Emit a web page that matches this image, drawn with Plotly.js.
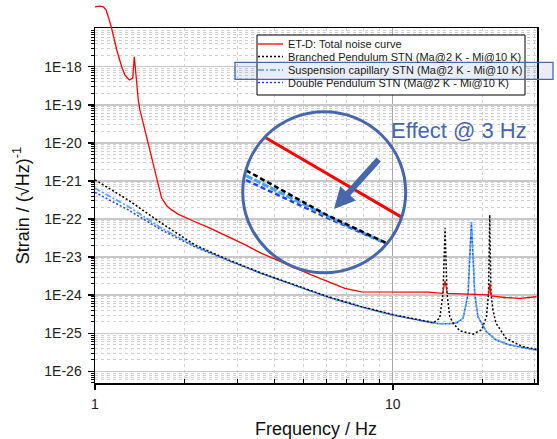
<!DOCTYPE html>
<html><head><meta charset="utf-8">
<script src="https://cdn.plot.ly/plotly-3.0.1.min.js"></script>
<style>html,body{margin:0;padding:0;background:#fff}#chart{width:557px;height:439px}</style>
</head><body><div id="chart"></div>
<script>
// ---------- data ----------
const freqTotal = [1.000,1.039,1.066,1.089,1.111,1.137,1.183,1.229,1.261,1.304,1.339,1.355,1.378,1.397,1.416,1.452,1.510,1.569,1.630,1.674,1.740,1.809,1.900,2.030,2.166,2.400,2.801,3.200,3.626,4.100,4.690,5.300,6.066,6.900,7.852,9.770,13.14,14.70,14.98,15.25,18.13,20.95,21.16,21.40,23.76,26.69,30.40];
const totalNoise = [3.72e-17,3.89e-17,3.72e-17,3.09e-17,1.91e-17,1.02e-17,2.75e-18,1.0e-18,6.03e-19,4.47e-19,5.01e-19,1.82e-18,4.47e-19,1.35e-19,7.24e-20,3.24e-20,9.77e-21,2.40e-21,7.08e-22,3.55e-22,2.24e-22,1.74e-22,1.35e-22,1.05e-22,8.51e-23,6.03e-23,3.47e-23,2.09e-23,1.26e-23,8.32e-24,5.13e-24,3.47e-24,2.29e-24,1.51e-24,1.23e-24,1.20e-24,1.20e-24,1.12e-24,2.40e-24,1.12e-24,1.07e-24,1.02e-24,2.04e-24,9.55e-25,8.71e-25,8.32e-25,9.12e-25];

const freqBranched = [1.000,1.293,1.674,2.166,2.801,3.626,4.690,6.066,7.852,10.16,13.14,13.65,14.38,14.75,14.98,15.21,15.53,15.94,16.78,18.60,19.87,20.64,20.97,21.16,21.36,21.70,22.20,24.00,27.30,30.40];
const branchedSTN = [1.07e-21,3.16e-22,7.76e-23,2.09e-23,8.51e-24,3.80e-24,1.86e-24,9.12e-25,5.01e-25,3.02e-25,2.04e-25,1.86e-25,2.51e-25,1.12e-24,5.75e-23,1.12e-24,2.75e-25,1.86e-25,1.17e-25,9.55e-26,1.23e-25,2.75e-25,1.12e-24,1.29e-22,1.12e-24,4.07e-25,1.86e-25,7.41e-26,4.47e-26,3.80e-26];

const freqCapillary = [1.000,1.293,1.674,2.166,2.801,3.626,4.690,6.066,7.852,10.16,13.14,14.38,15.94,16.37,17.23,17.90,18.37,18.84,19.32,20.64,22.20,24.60,30.40];
const capillarySTN = [6.46e-22,2.14e-22,5.75e-23,1.95e-23,8.32e-24,3.72e-24,1.82e-24,8.91e-25,4.90e-25,2.95e-25,2.00e-25,1.78e-25,1.82e-25,1.86e-25,2.51e-25,1.12e-24,8.51e-23,1.12e-24,2.75e-25,1.10e-25,6.76e-26,5.01e-26,3.63e-26];

const freqDouble = [1.000,1.293,1.674,2.166,2.801,3.626,4.690,6.066,7.852,10.16,13.14,14.38,15.94,16.37,17.23,17.90,18.37,18.84,19.32,20.64,22.20,24.60,30.40];
const doubleSTN = [5.01e-22,1.74e-22,5.13e-23,1.86e-23,8.13e-24,3.70e-24,1.81e-24,8.85e-25,4.88e-25,2.94e-25,1.99e-25,1.77e-25,1.81e-25,1.85e-25,2.50e-25,1.11e-24,8.40e-23,1.11e-24,2.72e-25,1.09e-25,6.70e-26,4.98e-26,3.60e-26];

// magnified view around 3 Hz (inset)
const insetFreq = [2.23, 3.07, 3.90];
const insetBranched = [2.90e-23, 1.35e-23, 8.3e-24];
const insetCapillary = [2.65e-23, 1.33e-23, 8.2e-24];
const insetDouble = [2.45e-23, 1.29e-23, 8.2e-24];
const insetFreqTotal = [2.41, 4.13];
const insetTotal = [5.08e-23, 1.30e-23];

const seriesNames = ['ET-D: Total noise curve','Branched Pendulum STN (Ma@2 K - Mi@10 K)','Suspension capillary STN (Ma@2 K - Mi@10 K)','Double Pendulum STN (Ma@2 K - Mi@10 K)'];
const xTickVals = [1, 10];
const xTickText = ['1', '10'];
const yTickVals = [1e-26,1e-25,1e-24,1e-23,1e-22,1e-21,1e-20,1e-19,1e-18];
const yTickText = ['1E-26','1E-25','1E-24','1E-23','1E-22','1E-21','1E-20','1E-19','1E-18'];
const xMinorVals = [2,3,4,5,6,7,8,9,20,30];
const calloutText = 'Effect @ 3 Hz';

// ---------- layout helpers ----------
const W = 557, H = 439;
const L = 95, R = 537, T = 2, B = 383;
const mainTop = 28.3;
const xMaxLog = Math.log10(30.5);
const yMin = -26.304, yMax = -16.992;
const pxPerDec = (B - mainTop) / (yMax - yMin);
const y2Top = yMin + (B - T) / pxPerDec;
const px = x => (x - L) / (R - L);
const py = y => (B - y) / (B - T);

const yMinorVals = [];
for (let e = -27; e <= -18; e++) for (let m = 2; m <= 9; m++) yMinorVals.push(m * Math.pow(10, e));

const C = { red:'#ff0000', black:'#000000', cap:'#4aa3f3', dbl:'#2244ee', accent:'#4767ad' };
const FONT = 'Liberation Sans, Arial, sans-serif';

const traces = [
  {x:freqDouble, y:doubleSTN, type:'scatter', mode:'lines', name:seriesNames[3], line:{color:C.dbl, width:1.5, dash:'2px,2px'}},
  {x:freqCapillary, y:capillarySTN, type:'scatter', mode:'lines', name:seriesNames[2], line:{color:C.cap, width:1.6, dash:'6px,2px,2px,2px'}},
  {x:freqBranched, y:branchedSTN, type:'scatter', mode:'lines', name:seriesNames[1], line:{color:C.black, width:1.5, dash:'2px,2px'}},
  {x:freqTotal, y:totalNoise, type:'scatter', mode:'lines', name:seriesNames[0], xaxis:'x4', yaxis:'y2', line:{color:C.red, width:1.3}},
  {x:insetFreq, y:insetDouble, type:'scatter', mode:'lines', xaxis:'x3', yaxis:'y3', line:{color:C.dbl, width:2.5, dash:'5px,3px'}},
  {x:insetFreq, y:insetCapillary, type:'scatter', mode:'lines', xaxis:'x3', yaxis:'y3', line:{color:C.cap, width:3, dash:'7px,2px'}},
  {x:insetFreq, y:insetBranched, type:'scatter', mode:'lines', xaxis:'x3', yaxis:'y3', line:{color:C.black, width:2.5, dash:'5px,3px'}},
  {x:insetFreqTotal, y:insetTotal, type:'scatter', mode:'lines', xaxis:'x3', yaxis:'y3', line:{color:C.red, width:3}}
];

const legendRows = [44, 56.5, 70, 82.5];
const legendStyles = [
  {color:C.red, width:1.3, dash:'solid'},
  {color:C.black, width:1.3, dash:'2px,2px'},
  {color:C.cap, width:1.5, dash:'6px,2px,2px,2px'},
  {color:C.dbl, width:1.3, dash:'2px,2px'}
];

const shapes = [
  {type:'rect', xref:'paper', yref:'paper', x0:px(257), x1:px(525), y0:py(95), y1:py(35), fillcolor:'#ffffff', line:{color:'#000', width:1}, layer:'above'}
];
legendRows.forEach((r, i) => shapes.push({type:'line', xref:'paper', yref:'paper', x0:px(258), x1:px(283), y0:py(r), y1:py(r), line:legendStyles[i], layer:'above'}));
shapes.push({type:'rect', xref:'paper', yref:'paper', x0:px(235), x1:px(553), y0:py(79.3), y1:py(62.3), fillcolor:'rgba(71,103,173,0.12)', line:{color:C.accent, width:1.3}, layer:'above'});
shapes.push({type:'circle', xref:'paper', yref:'paper', x0:px(242.7), x1:px(405.7), y0:py(272.7), y1:py(111.7), line:{color:C.accent, width:3}, layer:'above'});

const annotations = seriesNames.map((n, i) => ({
  xref:'paper', yref:'paper', x:px(286), y:py(legendRows[i]), xanchor:'left', yanchor:'middle',
  text:n, showarrow:false, font:{family:FONT, size:11, color:'#1a1a1a'}
}));
annotations.push({xref:'paper', yref:'paper', x:px(389), y:py(130), xanchor:'left', yanchor:'middle', text:calloutText, showarrow:false, font:{family:FONT, size:22, color:C.accent}});
annotations.push({xref:'paper', yref:'paper', x:px(334), y:py(209), ax:46, ay:-51, text:'', showarrow:true, arrowhead:2, arrowsize:0.7, arrowwidth:6, arrowcolor:C.accent});

const layout = {
  width:W, height:H,
  margin:{l:L, r:W-R, t:T, b:H-B},
  paper_bgcolor:'#ffffff', plot_bgcolor:'rgba(0,0,0,0)',
  showlegend:false,
  font:{family:FONT, size:14, color:'#222'},
  xaxis:{type:'log', range:[0, xMaxLog], domain:[0,1], anchor:'y',
    tickmode:'array', tickvals:xTickVals, ticktext:xTickText, ticks:'outside', ticklen:5, tickwidth:1.5, tickcolor:'#000',
    showline:true, linecolor:'#000', linewidth:1.5, mirror:true,
    showgrid:true, gridcolor:'#a8a8a8', gridwidth:1, zeroline:false, ticklabelstandoff:3,
    tickfont:{family:FONT, size:14, color:'#222'},
    minor:{tickmode:'array', tickvals:xMinorVals, ticks:'inside', ticklen:4, tickcolor:'#000', tickwidth:1, showgrid:true, gridcolor:'#d0d0d0', griddash:'dot', gridwidth:1},
    title:{text:'Frequency / Hz', font:{family:FONT, size:18, color:'#111'}, standoff:12}
  },
  yaxis:{type:'log', range:[yMin, yMax], domain:[0, (B-mainTop)/(B-T)], anchor:'x',
    tickmode:'array', tickvals:yTickVals, ticktext:yTickText, ticks:'outside', ticklen:6, tickwidth:1.5, tickcolor:'#000',
    showline:true, linecolor:'#000', linewidth:1.5, mirror:true,
    showgrid:true, gridcolor:'#c8c8c8', gridwidth:1.5, zeroline:false, ticklabelstandoff:3,
    tickfont:{family:FONT, size:14, color:'#222'},
    minor:{tickmode:'array', tickvals:yMinorVals, ticks:'outside', ticklen:3, tickcolor:'#000', tickwidth:1, showgrid:true, gridcolor:'#d0d0d0', griddash:'dot', gridwidth:1},
    title:{text:'Strain / (√Hz)<sup>-1</sup>', font:{family:FONT, size:18, color:'#111'}, standoff:10}
  },
  xaxis4:{type:'log', range:[0, xMaxLog], domain:[0,1], anchor:'y2', visible:false},
  yaxis2:{type:'log', range:[yMin, y2Top], domain:[0,1], anchor:'x4', visible:false},
  xaxis3:{type:'log', range:[0.3424, 0.6232], domain:[px(242.7), px(405.7)], anchor:'y3', visible:false},
  yaxis3:{type:'log', range:[-23.3, -22.1], domain:[py(272.7), py(111.7)], anchor:'x3', visible:false},
  shapes:shapes,
  annotations:annotations
};

Plotly.newPlot('chart', traces, layout, {staticPlot:true, displayModeBar:false});
</script>
</body></html>
